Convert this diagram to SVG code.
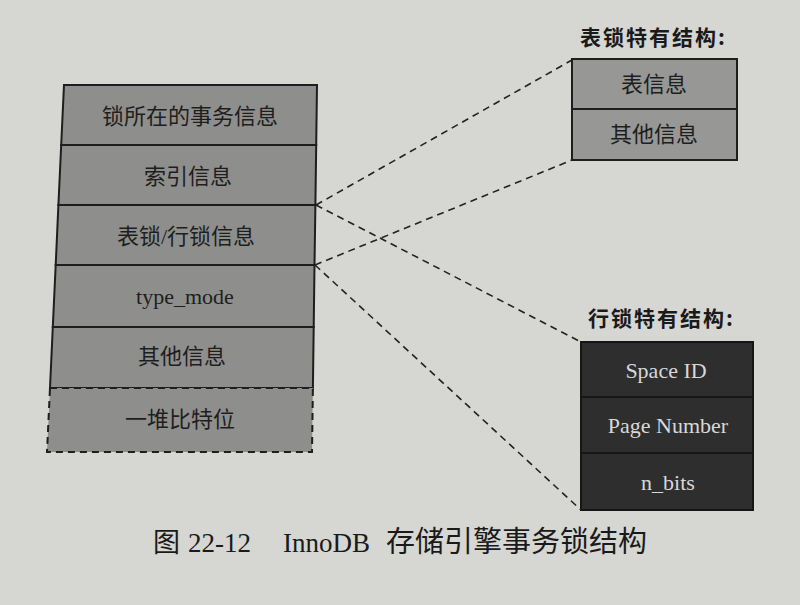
<svg xmlns="http://www.w3.org/2000/svg" width="800" height="605" viewBox="0 0 800 605">
<defs>
<style>
.row{fill:#8e8e8c;stroke:#1e1e1e;stroke-width:2}
.dashrow{fill:#8e8e8c;stroke:#1e1e1e;stroke-width:2;stroke-dasharray:7 5}
.lbl{font-family:"Liberation Serif","Noto Sans CJK SC",serif;font-size:22px;fill:#1e1e1e;text-anchor:middle}
.tbl{fill:#979795;stroke:#1e1e1e;stroke-width:2}
.dark{fill:#2e2e2e;stroke:#161616;stroke-width:2}
.wl{font-family:"Liberation Serif","Noto Sans CJK SC",serif;font-size:22px;fill:#d8d8d8;text-anchor:middle}
.title{font-family:"Noto Sans CJK SC",sans-serif;font-size:21px;font-weight:bold;fill:#1a1a1a;letter-spacing:2px}
.conn{stroke:#222;stroke-width:1.6;stroke-dasharray:7 5;fill:none}
.cap{font-family:"Liberation Serif","Noto Sans CJK SC",serif;font-size:27px;fill:#1a1a1a}
</style>
</defs>
<rect width="800" height="605" fill="#d6d6d2"/>
<g id="lock-struct">
<g id="row-trx"><polygon class="row" points="64,85 317,85 316.2,145 61.2,145"/><text class="lbl" x="190" y="124">锁所在的事务信息</text></g>
<g id="row-index"><polygon class="row" points="61.2,145 316.2,145 315.4,205 58.4,205"/><text class="lbl" x="188" y="184">索引信息</text></g>
<g id="row-tablerow"><polygon class="row" points="58.4,205 315.4,205 314.5,265 55.7,265"/><text class="lbl" x="186" y="244">表锁/行锁信息</text></g>
<g id="row-typemode"><polygon class="row" points="55.7,265 314.5,265 313.7,327 52.8,327"/><text class="lbl" x="185" y="304">type_mode</text></g>
<g id="row-other"><polygon class="row" points="52.8,327 313.7,327 312.9,388 50,388"/><text class="lbl" x="182" y="364">其他信息</text></g>
<g id="row-bits"><polygon class="dashrow" points="50,388 312.9,388 312,452 47,452"/><text class="lbl" x="180" y="427">一堆比特位</text></g>
</g>
<g id="table-lock">
<text class="title" x="580" y="45">表锁特有结构:</text>
<g id="tl-info"><rect class="tbl" x="572" y="59" width="165" height="50"/><text class="lbl" x="654" y="92">表信息</text></g>
<g id="tl-other"><rect class="tbl" x="572" y="109" width="165" height="51"/><text class="lbl" x="654" y="142">其他信息</text></g>
</g>
<g id="row-lock">
<text class="title" x="588" y="326">行锁特有结构:</text>
<g id="rl-space"><rect class="dark" x="581" y="342" width="172" height="55"/><text class="wl" x="666" y="378">Space ID</text></g>
<g id="rl-page"><rect class="dark" x="581" y="397" width="172" height="56"/><text class="wl" x="668" y="433">Page Number</text></g>
<g id="rl-bits"><rect class="dark" x="581" y="453" width="172" height="57"/><text class="wl" x="668" y="490">n_bits</text></g>
</g>
<g id="connectors">
<line class="conn" x1="316" y1="205" x2="572" y2="60"/>
<line class="conn" x1="315" y1="265" x2="572" y2="160"/>
<line class="conn" x1="316" y1="205" x2="581" y2="342"/>
<line class="conn" x1="315" y1="265" x2="581" y2="510"/>
</g>
<g id="caption">
<text class="cap" y="552"><tspan x="153">图</tspan><tspan x="188">22-12</tspan><tspan x="283">InnoDB</tspan><tspan x="386" font-size="29">存储引擎事务锁结构</tspan></text>
</g>
</svg>
